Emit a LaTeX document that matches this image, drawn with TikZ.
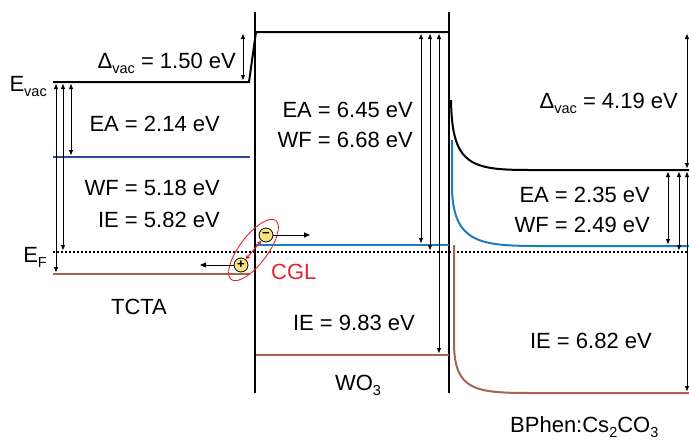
\documentclass[tikz,border=0pt]{standalone}
\usepackage{fontspec}
\setmainfont{Liberation Sans}
\usetikzlibrary{arrows.meta, positioning, shapes.geometric}
\definecolor{homobrown}{HTML}{A8634E}
\definecolor{lumoblue}{HTML}{2F4A9C}
\definecolor{bandblue}{HTML}{1F7BBF}
\definecolor{cglred}{HTML}{E3262D}
\definecolor{chargeyellow}{HTML}{F6E27F}
\newcommand{\lowsub}[1]{\raisebox{-0.25em}{\fontsize{14.5}{14.5}\selectfont #1}}

\begin{document}
\begin{tikzpicture}[
    x=1pt, y=-1pt,
    lbl/.style={font=\fontsize{22}{26}\selectfont, inner sep=0pt},
    wall/.style={line width=2.2pt},
    level/.style={line width=2pt},
    gap/.style={{Triangle[length=5pt, width=4pt]}-{Triangle[length=5pt, width=4pt]}, line width=0.8pt},
    push/.style={-{Triangle[length=6pt, width=5pt]}, line width=1pt},
    charge/.style={draw, fill=chargeyellow, circle, minimum size=14pt, inner sep=0pt, font=\fontsize{13}{13}\selectfont\bfseries, line width=0.8pt},
]
    \useasboundingbox (0,0) rectangle (689,440);

    % Interfaces
    \draw[wall] (255,12) -- (255,393);
    \draw[wall] (449,12) -- (449,393);

    % Fermi level
    \draw[line width=2pt, dotted] (53,252) -- (689,252);
    \node[lbl, anchor=base east] (ef) at (47,262) {E\lowsub{F}};

    % TCTA
    \draw[level] (53,82) -- (249,82) -- (256,32) -- (449,32);
    \draw[level, lumoblue] (53,157) -- (250,157);
    \draw[level, homobrown] (53,274) -- (250,274);
    \node[lbl, anchor=base east] (evac) at (47,91) {E\lowsub{vac}};
    \draw[gap] (71,84) -- (71,155);
    \draw[gap] (63,84) -- (63,250);
    \draw[gap] (56,84) -- (56,272);
    \draw[gap] (243,34) -- (243,80);
    \node[lbl, anchor=base east] (dvacl) at (236,68) {Δ\lowsub{vac} = 1.50 eV};
    \node[lbl, anchor=base east] (eal) at (220,131) {EA = 2.14 eV};
    \node[lbl, anchor=base east] (wfl) at (220,195) {WF = 5.18 eV};
    \node[lbl, anchor=base east] (iel) at (220,227) {IE = 5.82 eV};
    \node[lbl, anchor=base] (tcta) at (139,314) {TCTA};

    % WO3
    \draw[level, bandblue] (256,245) -- (449,245);
    \draw[level, homobrown] (256,355) -- (449,355);
    \draw[gap] (421,34) -- (421,243);
    \draw[gap] (430,34) -- (430,250);
    \draw[gap] (439,34) -- (439,353);
    \node[lbl, anchor=base east] (eam) at (413,117) {EA = 6.45 eV};
    \node[lbl, anchor=base east] (wfm) at (413,147) {WF = 6.68 eV};
    \node[lbl, anchor=base east] (iem) at (415,330) {IE = 9.83 eV};
    \node[lbl, anchor=base] (wo) at (358,390) {WO\lowsub{3}};

    % BPhen:Cs2CO3
    \draw[level] (451,100) .. controls (452,165) and (470,170) .. (530,170) -- (689,170);
    \draw[level, bandblue] (452,140) -- (452,190) .. controls (454,243) and (480,246) .. (540,246) -- (689,246);
    \draw[level, homobrown] (454,245) -- (454,345) .. controls (455,390) and (475,393) .. (530,393) -- (689,393);
    \draw[gap] (687,34) -- (687,168);
    \draw[gap] (668,172) -- (668,244);
    \draw[gap] (679,172) -- (679,250);
    \draw[gap] (687,172) -- (687,391);
    \node[lbl, anchor=base east] (dvacr) at (678,108) {Δ\lowsub{vac} = 4.19 eV};
    \node[lbl, anchor=base east] (ear) at (650,202) {EA = 2.35 eV};
    \node[lbl, anchor=base east] (wfr) at (650,232) {WF = 2.49 eV};
    \node[lbl, anchor=base east] (ier) at (652,348) {IE = 6.82 eV};
    \node[lbl, anchor=base west] (bphen) at (510,432) {BPhen:Cs\lowsub{2}CO\lowsub{3}};

    % Charge generation
    \node[draw=cglred, line width=0.9pt, ellipse, minimum width=74pt, minimum height=28pt, rotate=53] (ring) at (253.5,250) {};
    \node[charge] (minus) at (266,235) {−};
    \node[charge] (plus) at (241,265) {+};
    \coordinate (eout) at (310,235);
    \coordinate (hout) at (200,265);
    \draw[push] (minus) -- (eout);
    \draw[push] (plus) -- (hout);
    \draw[{Triangle[length=4pt, width=4pt]}-{Triangle[length=4pt, width=4pt]}, cglred, line width=1pt] (plus) -- (minus);
    \node[lbl, cglred, anchor=base west] (cgl) at (271,279) {CGL};
\end{tikzpicture}
\end{document}
